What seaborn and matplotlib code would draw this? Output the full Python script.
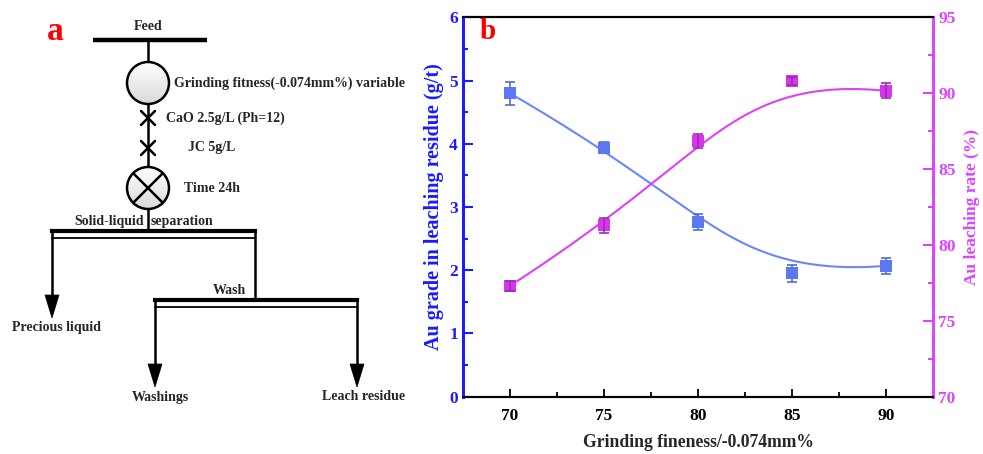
import numpy as np
import pandas as pd
import matplotlib
matplotlib.use("Agg")
import matplotlib.pyplot as plt
import seaborn as sns
from matplotlib.patches import Circle, Polygon
from matplotlib.ticker import MultipleLocator

sns.set_theme(style="white")
plt.rcParams['font.family'] = ['Liberation Serif', 'DejaVu Serif']
plt.rcParams['font.weight'] = 'bold'

# ---------------- data ----------------
fineness = [70, 75, 80, 85, 90]
au_grade = [4.80, 3.94, 2.76, 1.95, 2.07]
au_grade_err = [0.18, 0.09, 0.13, 0.14, 0.13]
leach_rate = [77.3, 81.3, 86.85, 90.8, 90.15]
leach_rate_err = [0.35, 0.5, 0.45, 0.25, 0.5]

flow_texts = {
    "feed": "Feed",
    "grind": "Grinding fitness(-0.074mm%) variable",
    "cao": "CaO 2.5g/L (Ph=12)",
    "jc": "JC 5g/L",
    "time": "Time 24h",
    "sl1": "Solid-liquid",
    "sl2": "separation",
    "wash": "Wash",
    "precious": "Precious liquid",
    "washings": "Washings",
    "residue": "Leach residue",
}

BLUE_AX = "#1a1aff"
MAG_AX = "#dd44ff"
BLUE_M = "#5b78f2"
BLUE_L = "#6a86f8"
BLUE_E = "#4f6cc8"
MAG_M = "#dc33f0"
MAG_L = "#e040f5"
MAG_E = "#8e34a8"


def bspline(px, py, n=300):
    """Clamped cubic B-spline with the data points as control points (Origin-style)."""
    P = np.column_stack([px, py]).astype(float)
    k = 3
    m = len(P)
    inner = np.arange(1, m - k)
    knots = np.concatenate([[0] * (k + 1), inner, [m - k] * (k + 1)]).astype(float)
    t = np.linspace(0, m - k, n)
    t[-1] -= 1e-9

    def N(i, p, tt):
        if p == 0:
            return np.where((knots[i] <= tt) & (tt < knots[i + 1]), 1.0, 0.0)
        a = 0.0
        d1 = knots[i + p] - knots[i]
        if d1 > 0:
            a = (tt - knots[i]) / d1 * N(i, p - 1, tt)
        b = 0.0
        d2 = knots[i + p + 1] - knots[i + 1]
        if d2 > 0:
            b = (knots[i + p + 1] - tt) / d2 * N(i + 1, p - 1, tt)
        return a + b

    B = np.array([N(i, k, t) for i in range(m)])
    C = B.T @ P
    return C[:, 0], C[:, 1]


fig = plt.figure(figsize=(9.83, 4.54), dpi=100)

# ---------------- panel a : flowchart ----------------
axa = fig.add_axes([0, 0, 420 / 983, 1])
fs = 10
lw = 1.8
cx = 148


def reset_lims():
    axa.set_xlim(0, 420)
    axa.set_ylim(454, 0)


reset_lims()
axa.axis("off")

axa.text(55, 32, "a", color="red", fontsize=24, fontweight="bold", ha="center", va="center")
axa.text(cx, 27, flow_texts["feed"], fontsize=fs, ha="center", va="center")
axa.plot([93, 207], [40, 40], color="black", lw=3.2, solid_capstyle="butt")
axa.plot([cx, cx], [40, 62], color="black", lw=lw)


def grad_circle(ax, x, y, r):
    grad = np.linspace(1.0, 0.85, 100).reshape(-1, 1)
    im = ax.imshow(grad, extent=[x - r, x + r, y + r, y - r], cmap="gray", vmin=0, vmax=1,
                   aspect="auto", zorder=2)
    c = Circle((x, y), r, facecolor="none", edgecolor="black", lw=lw, zorder=3)
    ax.add_patch(c)
    im.set_clip_path(c)


grad_circle(axa, cx, 83, 21)
reset_lims()
axa.text(174, 83, flow_texts["grind"], fontsize=fs, ha="left", va="center")
axa.plot([cx, cx], [104, 167], color="black", lw=lw)
for yy in (118, 148):
    d = 7
    axa.plot([cx - d, cx + d], [yy - d, yy + d], color="black", lw=lw)
    axa.plot([cx - d, cx + d], [yy + d, yy - d], color="black", lw=lw)
axa.text(166, 118, flow_texts["cao"], fontsize=fs, ha="left", va="center")
axa.text(188, 148, flow_texts["jc"], fontsize=fs, ha="left", va="center")

grad_circle(axa, cx, 188, 21)
reset_lims()
r45 = 21 / np.sqrt(2)
axa.plot([cx - r45, cx + r45], [188 - r45, 188 + r45], color="black", lw=lw, zorder=4)
axa.plot([cx - r45, cx + r45], [188 + r45, 188 - r45], color="black", lw=lw, zorder=4)
axa.text(184, 188, flow_texts["time"], fontsize=fs, ha="left", va="center")
axa.plot([cx, cx], [209, 231], color="black", lw=lw)
axa.text(144, 221, flow_texts["sl1"], fontsize=fs, ha="right", va="center")
axa.text(151, 221, flow_texts["sl2"], fontsize=fs, ha="left", va="center")


def double_bar(ax, x0, x1, y):
    ax.plot([x0, x1], [y, y], color="black", lw=3, solid_capstyle="projecting")
    ax.plot([x0, x1], [y + 7, y + 7], color="black", lw=1.3)


def arrow_down(ax, x, y0, y1):
    ax.plot([x, x], [y0, y1 - 20], color="black", lw=lw)
    ax.add_patch(Polygon([[x - 7, y1 - 23], [x + 7, y1 - 23], [x, y1]], closed=True,
                         facecolor="black", edgecolor="black", lw=0.5))


double_bar(axa, 52, 255, 231)
arrow_down(axa, 52, 231, 318)
axa.plot([255, 255], [231, 300], color="black", lw=lw)
axa.text(229, 291, flow_texts["wash"], fontsize=fs, ha="center", va="center")
axa.text(56, 328, flow_texts["precious"], fontsize=fs, ha="center", va="center")
double_bar(axa, 155, 357, 300)
arrow_down(axa, 155, 300, 387)
arrow_down(axa, 357, 300, 387)
axa.text(160, 397, flow_texts["washings"], fontsize=fs, ha="center", va="center")
axa.text(364, 397, flow_texts["residue"], fontsize=fs, ha="center", va="center")
reset_lims()

# ---------------- panel b : dual axis ----------------
axb = fig.add_axes([462.7 / 983, 1 - 396.7 / 454, (933.3 - 462.7) / 983, (396.7 - 17.3) / 454])
axr = axb.twinx()

df = pd.DataFrame({"fineness": fineness, "grade": au_grade, "grade_err": au_grade_err,
                   "rate": leach_rate, "rate_err": leach_rate_err})

bx, by = bspline(df["fineness"], df["grade"])
rx, ry = bspline(df["fineness"], df["rate"])
curve_b = pd.DataFrame({"x": bx, "y": by})
curve_r = pd.DataFrame({"x": rx, "y": ry})

sns.lineplot(data=curve_b, x="x", y="y", ax=axb, color=BLUE_L, lw=1.5, sort=False, zorder=2)
axb.errorbar(df["fineness"], df["grade"], yerr=df["grade_err"], fmt="none", ecolor=BLUE_E,
             elinewidth=1.2, capsize=3.5, capthick=1.2, zorder=3)
sns.scatterplot(data=df, x="fineness", y="grade", ax=axb, marker="s", s=75, color=BLUE_M,
                edgecolor=BLUE_M, linewidth=0, zorder=4)

sns.lineplot(data=curve_r, x="x", y="y", ax=axr, color=MAG_L, lw=1.5, sort=False, zorder=2)
sns.scatterplot(data=df, x="fineness", y="rate", ax=axr, marker="s", s=75, color=MAG_M,
                edgecolor=MAG_M, linewidth=0, zorder=3)
axr.errorbar(df["fineness"], df["rate"], yerr=df["rate_err"], fmt="none", ecolor=MAG_E,
             elinewidth=1.2, capsize=3.5, capthick=1.2, zorder=4)

axb.set_xlim(67.5, 92.5)
axb.set_ylim(0, 6)
axr.set_ylim(70, 95)
axb.set_xticks(fineness)
axb.xaxis.set_minor_locator(MultipleLocator(2.5))
axb.yaxis.set_major_locator(MultipleLocator(1))
axb.yaxis.set_minor_locator(MultipleLocator(0.5))
axr.yaxis.set_major_locator(MultipleLocator(5))
axr.yaxis.set_minor_locator(MultipleLocator(2.5))

tfs = 12.5
axb.tick_params(axis="x", which="both", direction="in", colors="black", labelsize=tfs, pad=8, top=False, bottom=True)
axb.tick_params(axis="x", which="major", length=6, width=1.3)
axb.tick_params(axis="x", which="minor", length=3.5, width=1.3)
axb.tick_params(axis="y", which="both", direction="in", colors=BLUE_AX, labelsize=tfs, left=True, right=False)
axb.tick_params(axis="y", which="major", length=7, width=1.5)
axb.tick_params(axis="y", which="minor", length=3.5, width=1.5)
axr.tick_params(axis="y", which="both", direction="in", colors=MAG_AX, labelsize=tfs, right=True, left=False)
axr.tick_params(axis="y", which="major", length=7, width=1.5)
axr.tick_params(axis="y", which="minor", length=3.5, width=1.5)

for lab in axb.get_xticklabels() + axb.get_yticklabels() + axr.get_yticklabels():
    lab.set_fontweight("bold")

axb.set_xlabel("Grinding fineness/-0.074mm%", fontsize=12.7, fontweight="bold", labelpad=7)
axb.set_ylabel("Au grade in leaching residue (g/t)", fontsize=14.5, fontweight="bold", color=BLUE_AX, labelpad=4)
axr.set_ylabel("Au leaching rate (%)", fontsize=12.5, fontweight="bold", color=MAG_AX, labelpad=6)

for ax in (axb, axr):
    ax.spines["top"].set_color("black")
    ax.spines["bottom"].set_color("black")
    ax.spines["top"].set_linewidth(1.5)
    ax.spines["bottom"].set_linewidth(1.5)
    ax.spines["left"].set_color(BLUE_AX)
    ax.spines["left"].set_linewidth(2)
    ax.spines["right"].set_color(MAG_AX)
    ax.spines["right"].set_linewidth(2)
    ax.grid(False)
    ax.set_facecolor("none")

axb.text(0.054, 0.962, "b", transform=axb.transAxes, color="red", fontsize=21, fontweight="bold",
         ha="center", va="center")

fig.savefig("out.png", dpi=100)
